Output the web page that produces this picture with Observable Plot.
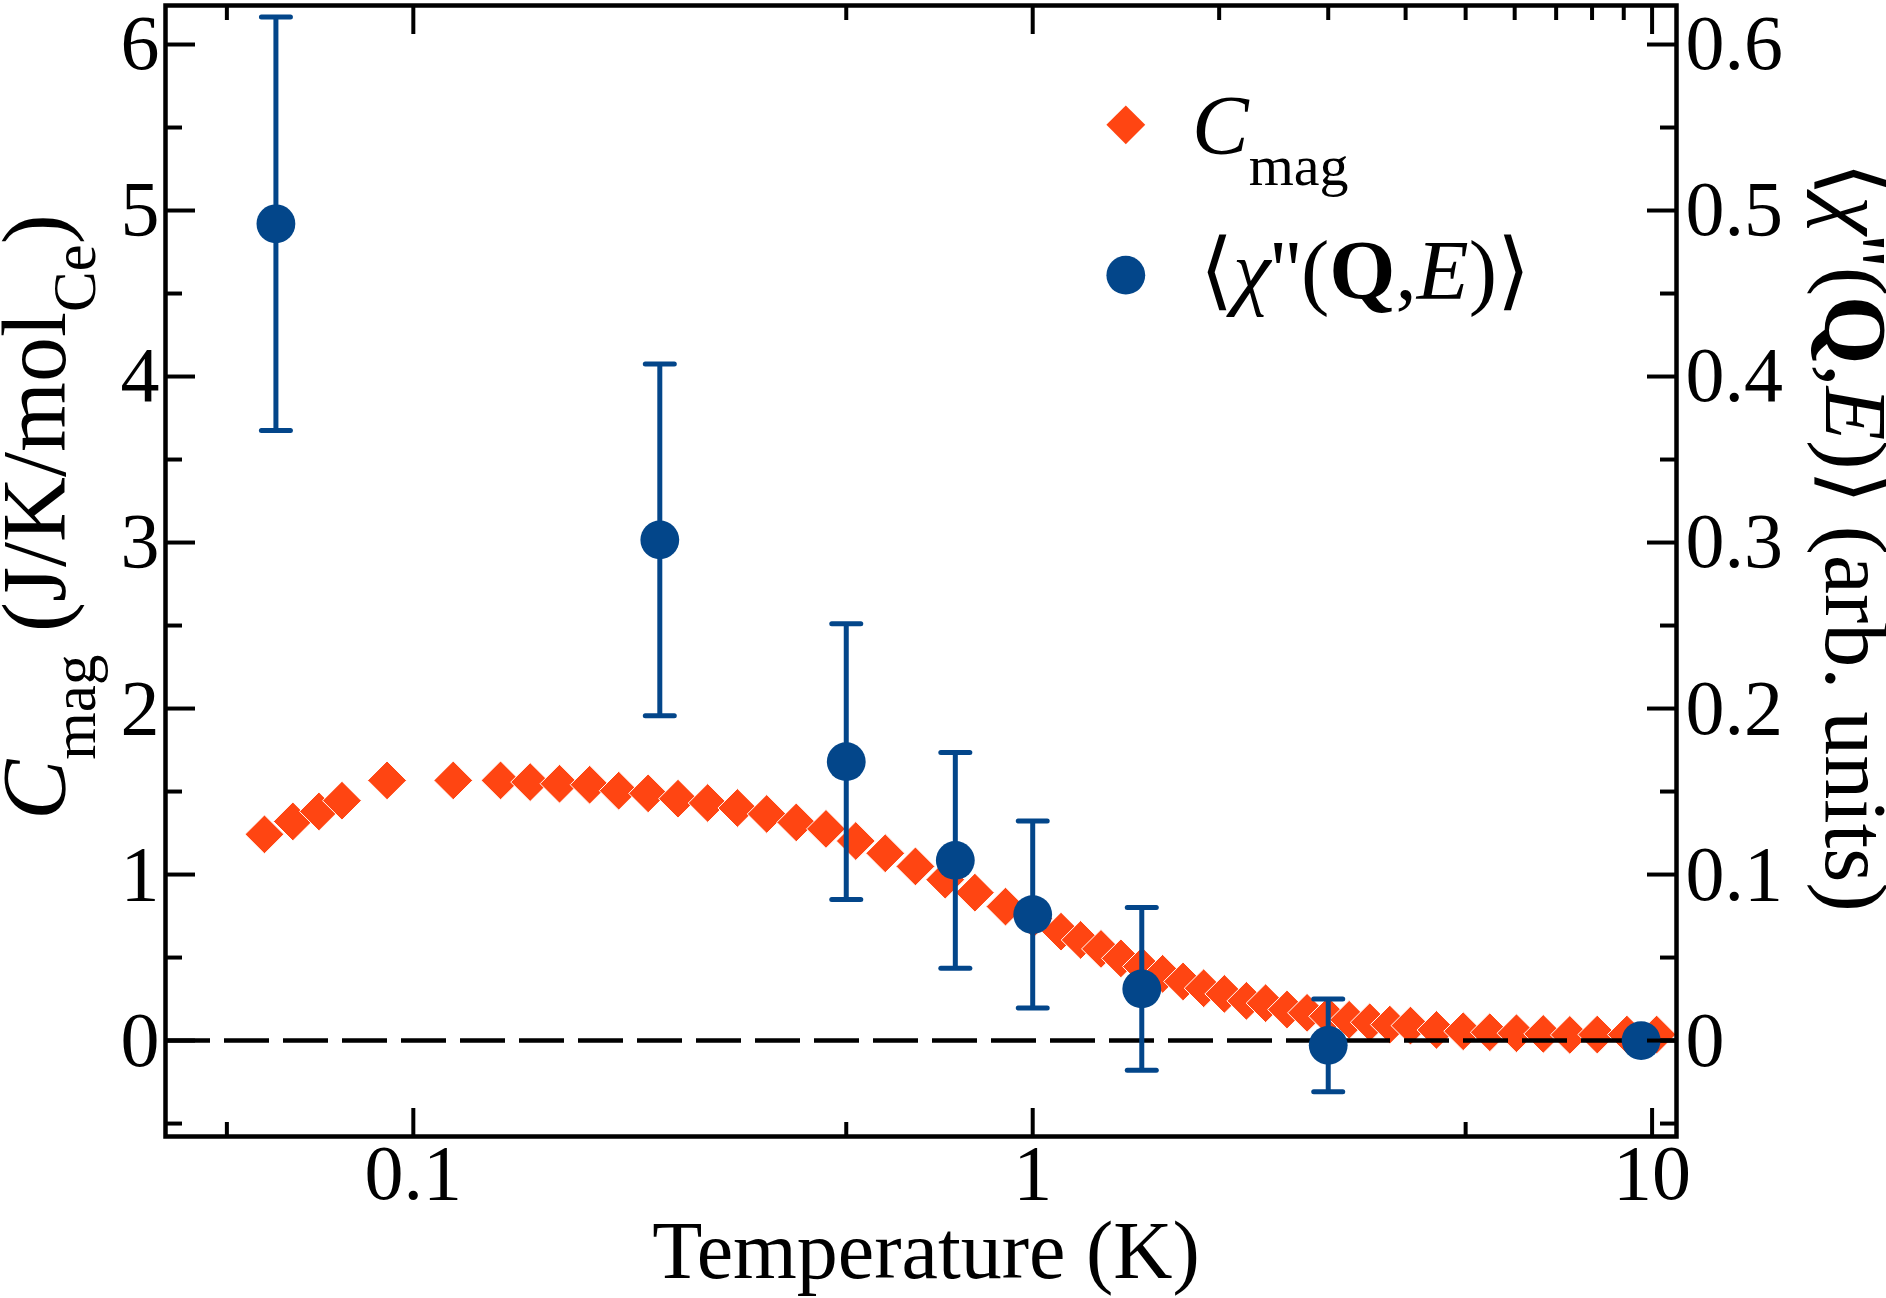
<!DOCTYPE html>
<html>
<head>
<meta charset="utf-8">
<script src="https://cdn.jsdelivr.net/npm/d3@7"></script>
<script src="https://cdn.jsdelivr.net/npm/@observablehq/plot@0.6"></script>
<style>
  html, body { margin: 0; padding: 0; background: #fff; }
  #chart svg { display: block; }
</style>
</head>
<body>
<div id="chart"></div>
<script>
// ---- data: magnetic specific heat (left axis) ----
const cmagT = [0.0575, 0.0639, 0.0704, 0.0767, 0.0907, 0.1160, 0.1383, 0.1544, 0.1722, 0.1926,
  0.2146, 0.2394, 0.2675, 0.2987, 0.3336, 0.372, 0.4152, 0.4637, 0.518, 0.578,
  0.6466, 0.7223, 0.8066, 0.9038, 1.002, 1.111, 1.195, 1.289, 1.388, 1.501,
  1.621, 1.749, 1.888, 2.039, 2.213, 2.377, 2.574, 2.773, 2.999, 3.243,
  3.501, 3.772, 4.073, 4.486, 4.955, 5.470, 6.040, 6.672, 7.365, 8.156, 9.106, 10.17];
const cmagVal = [1.242, 1.320, 1.380, 1.445, 1.567, 1.567, 1.567, 1.557, 1.547, 1.541,
  1.505, 1.489, 1.457, 1.431, 1.401, 1.365, 1.314, 1.275, 1.202, 1.128,
  1.049, 0.969, 0.891, 0.807, 0.734, 0.656, 0.606, 0.552, 0.495, 0.446,
  0.402, 0.356, 0.315, 0.281, 0.239, 0.225, 0.187, 0.167, 0.146, 0.125,
  0.110, 0.096, 0.090, 0.064, 0.056, 0.050, 0.044, 0.040, 0.034, 0.036, 0.036, 0.036];

// ---- data: chi'' (right axis) ----
const chiT   = [0.06, 0.25, 0.5, 0.75, 1.0, 1.5, 3.0, 9.6];
const chiVal = [0.492, 0.3016, 0.168, 0.1085, 0.0759, 0.0311, -0.0029, 0.0];
const chiErr = [0.1245, 0.106, 0.083, 0.065, 0.0563, 0.049, 0.028, 0];

// ---- ticks ----
const xMajor = [0.1, 1, 10];
const xLabels = ["0.1", "1", "10"];
const xMinorBottom = [0.05, 0.5, 5];
const xMinorTop = [0.05, 0.5, 2, 3, 4, 5, 6, 7, 8, 9];
const yMajor = [0, 1, 2, 3, 4, 5, 6];
const yMinor = [-0.5, 0.5, 1.5, 2.5, 3.5, 4.5, 5.5];
const chiTicks = [0, 0.1, 0.2, 0.3, 0.4, 0.5, 0.6];
const chiTickLabels = ["0", "0.1", "0.2", "0.3", "0.4", "0.5", "0.6"];
const CHI_SCALE = 10; // right axis = left axis / 10

const ORANGE = "#ff4512";
const BLUE = "#03468a";
const FONT = "'Liberation Serif', 'Times New Roman', serif";

const cData = cmagT.map((t, i) => ({T: t, C: cmagVal[i]}));
const chiData = chiT.map((t, i) => ({T: t, v: chiVal[i], e: chiErr[i]}));
const chiErrData = chiData.filter(d => d.e > 0);
const xLabelData = xMajor.map((t, i) => ({T: t, label: xLabels[i]}));

const capSymbol = {
  draw(context, size) {
    const r = Math.sqrt(size / Math.PI);
    context.moveTo(-r, 0);
    context.lineTo(r, 0);
  }
};

const tickStyle = {label: null, tickFormat: () => "", strokeWidth: 4};
const labelStyle = {label: null, tickSize: 0, fontSize: 78, fontFamily: FONT};

const plot = Plot.plot({
  width: 1886,
  height: 1298,
  marginLeft: 165,
  marginRight: 210,
  marginTop: 5,
  marginBottom: 162,
  x: {type: "log", domain: [0.0398, 10.95]},
  y: {domain: [-0.578, 6.235]},
  style: {fontFamily: FONT, fontSize: "78px", background: "white", color: "black"},
  marks: [
    Plot.dot(cData, {x: "T", y: "C", symbol: "diamond2", r: 17.5, fill: ORANGE, stroke: "white", strokeWidth: 1}),
    Plot.ruleY([0], {stroke: "black", strokeWidth: 4.5, strokeDasharray: "45,14"}),
    Plot.ruleX(chiErrData, {x: "T", y1: d => (d.v - d.e) * CHI_SCALE, y2: d => (d.v + d.e) * CHI_SCALE, stroke: BLUE, strokeWidth: 5}),
    Plot.dot(chiErrData, {x: "T", y: d => (d.v - d.e) * CHI_SCALE, symbol: capSymbol, r: 14.5, fill: "none", stroke: BLUE, strokeWidth: 5, strokeLinecap: "round"}),
    Plot.dot(chiErrData, {x: "T", y: d => (d.v + d.e) * CHI_SCALE, symbol: capSymbol, r: 14.5, fill: "none", stroke: BLUE, strokeWidth: 5, strokeLinecap: "round"}),
    Plot.dot(chiData, {x: "T", y: d => d.v * CHI_SCALE, r: 19.4, fill: BLUE}),

    // tick marks (inward)
    Plot.axisX(xMajor, {...tickStyle, anchor: "bottom", tickSize: -28}),
    Plot.axisX(xMinorBottom, {...tickStyle, anchor: "bottom", tickSize: -14}),
    Plot.axisX(xMajor, {...tickStyle, anchor: "top", tickSize: -28}),
    Plot.axisX(xMinorTop, {...tickStyle, anchor: "top", tickSize: -14}),
    Plot.axisY(yMajor, {...tickStyle, anchor: "left", tickSize: -30}),
    Plot.axisY(yMinor, {...tickStyle, anchor: "left", tickSize: -17}),
    Plot.axisY(chiTicks.map(v => v * CHI_SCALE), {...tickStyle, anchor: "right", tickSize: -30}),
    Plot.axisY(yMinor, {...tickStyle, anchor: "right", tickSize: -17}),

    // tick labels
    Plot.text(xLabelData, {x: "T", text: "label", frameAnchor: "bottom", lineAnchor: "top", dy: 7, fontSize: 78, fontFamily: FONT, fill: "black"}),
    Plot.axisY(yMajor, {...labelStyle, anchor: "left", tickPadding: 6, tickFormat: d => String(d)}),
    Plot.axisY(chiTicks.map(v => v * CHI_SCALE), {...labelStyle, anchor: "right", tickPadding: 9, tickFormat: (d, i) => chiTickLabels[i]}),

    Plot.frame({stroke: "black", strokeWidth: 4.5}),

    // legend markers
    Plot.dot([{}], {frameAnchor: "top-left", dx: 960.3, dy: 119.3, symbol: "diamond2", r: 17.5, fill: ORANGE}),
    Plot.dot([{}], {frameAnchor: "top-left", dx: 960.3, dy: 269.7, r: 19.4, fill: BLUE})
  ]
});

document.getElementById("chart").appendChild(plot);
const svg = d3.select(plot);

function richText(parent, attrs, parts) {
  const t = parent.append("text").style("font-family", FONT);
  for (const [k, v] of Object.entries(attrs)) t.attr(k, v);
  for (const p of parts) {
    const s = t.append("tspan").text(p.text);
    if (p.italic) s.attr("font-style", "italic");
    if (p.bold) s.attr("font-weight", "bold");
    if (p.size) s.attr("font-size", p.size);
    if (p.dy) s.attr("dy", p.dy);
  }
  return t;
}

// x-axis label
richText(svg, {x: 926, y: 1278, "text-anchor": "middle", "font-size": 82, fill: "black"},
  [{text: "Temperature (K)"}]);

// left y label
richText(svg, {transform: "translate(65,517) rotate(-90)", "text-anchor": "middle", "font-size": 90, fill: "black"}, [
  {text: "C", italic: true},
  {text: "mag", size: 61, dy: 30},
  {text: " (J/K/mol", dy: -30},
  {text: "Ce", size: 61, dy: 30},
  {text: ")", dy: -30}
]);

// right y label
richText(svg, {transform: "translate(1826,537) rotate(90)", "text-anchor": "middle", "font-size": 88, fill: "black"}, [
  {text: "\u27E8"},
  {text: "\u03C7", italic: true},
  {text: "''("},
  {text: "Q", bold: true},
  {text: ","},
  {text: "E", italic: true},
  {text: ")\u27E9 (arb. units)"}
]);

// legend texts
richText(svg, {x: 1192, y: 154, "text-anchor": "start", "font-size": 85, fill: "black"}, [
  {text: "C", italic: true},
  {text: "mag", size: 58, dy: 31}
]);
richText(svg, {x: 1200, y: 299, "text-anchor": "start", "font-size": 85, fill: "black"}, [
  {text: "\u27E8"},
  {text: "\u03C7", italic: true},
  {text: "''("},
  {text: "Q", bold: true},
  {text: ","},
  {text: "E", italic: true},
  {text: ")\u27E9"}
]);
</script>
</body>
</html>
